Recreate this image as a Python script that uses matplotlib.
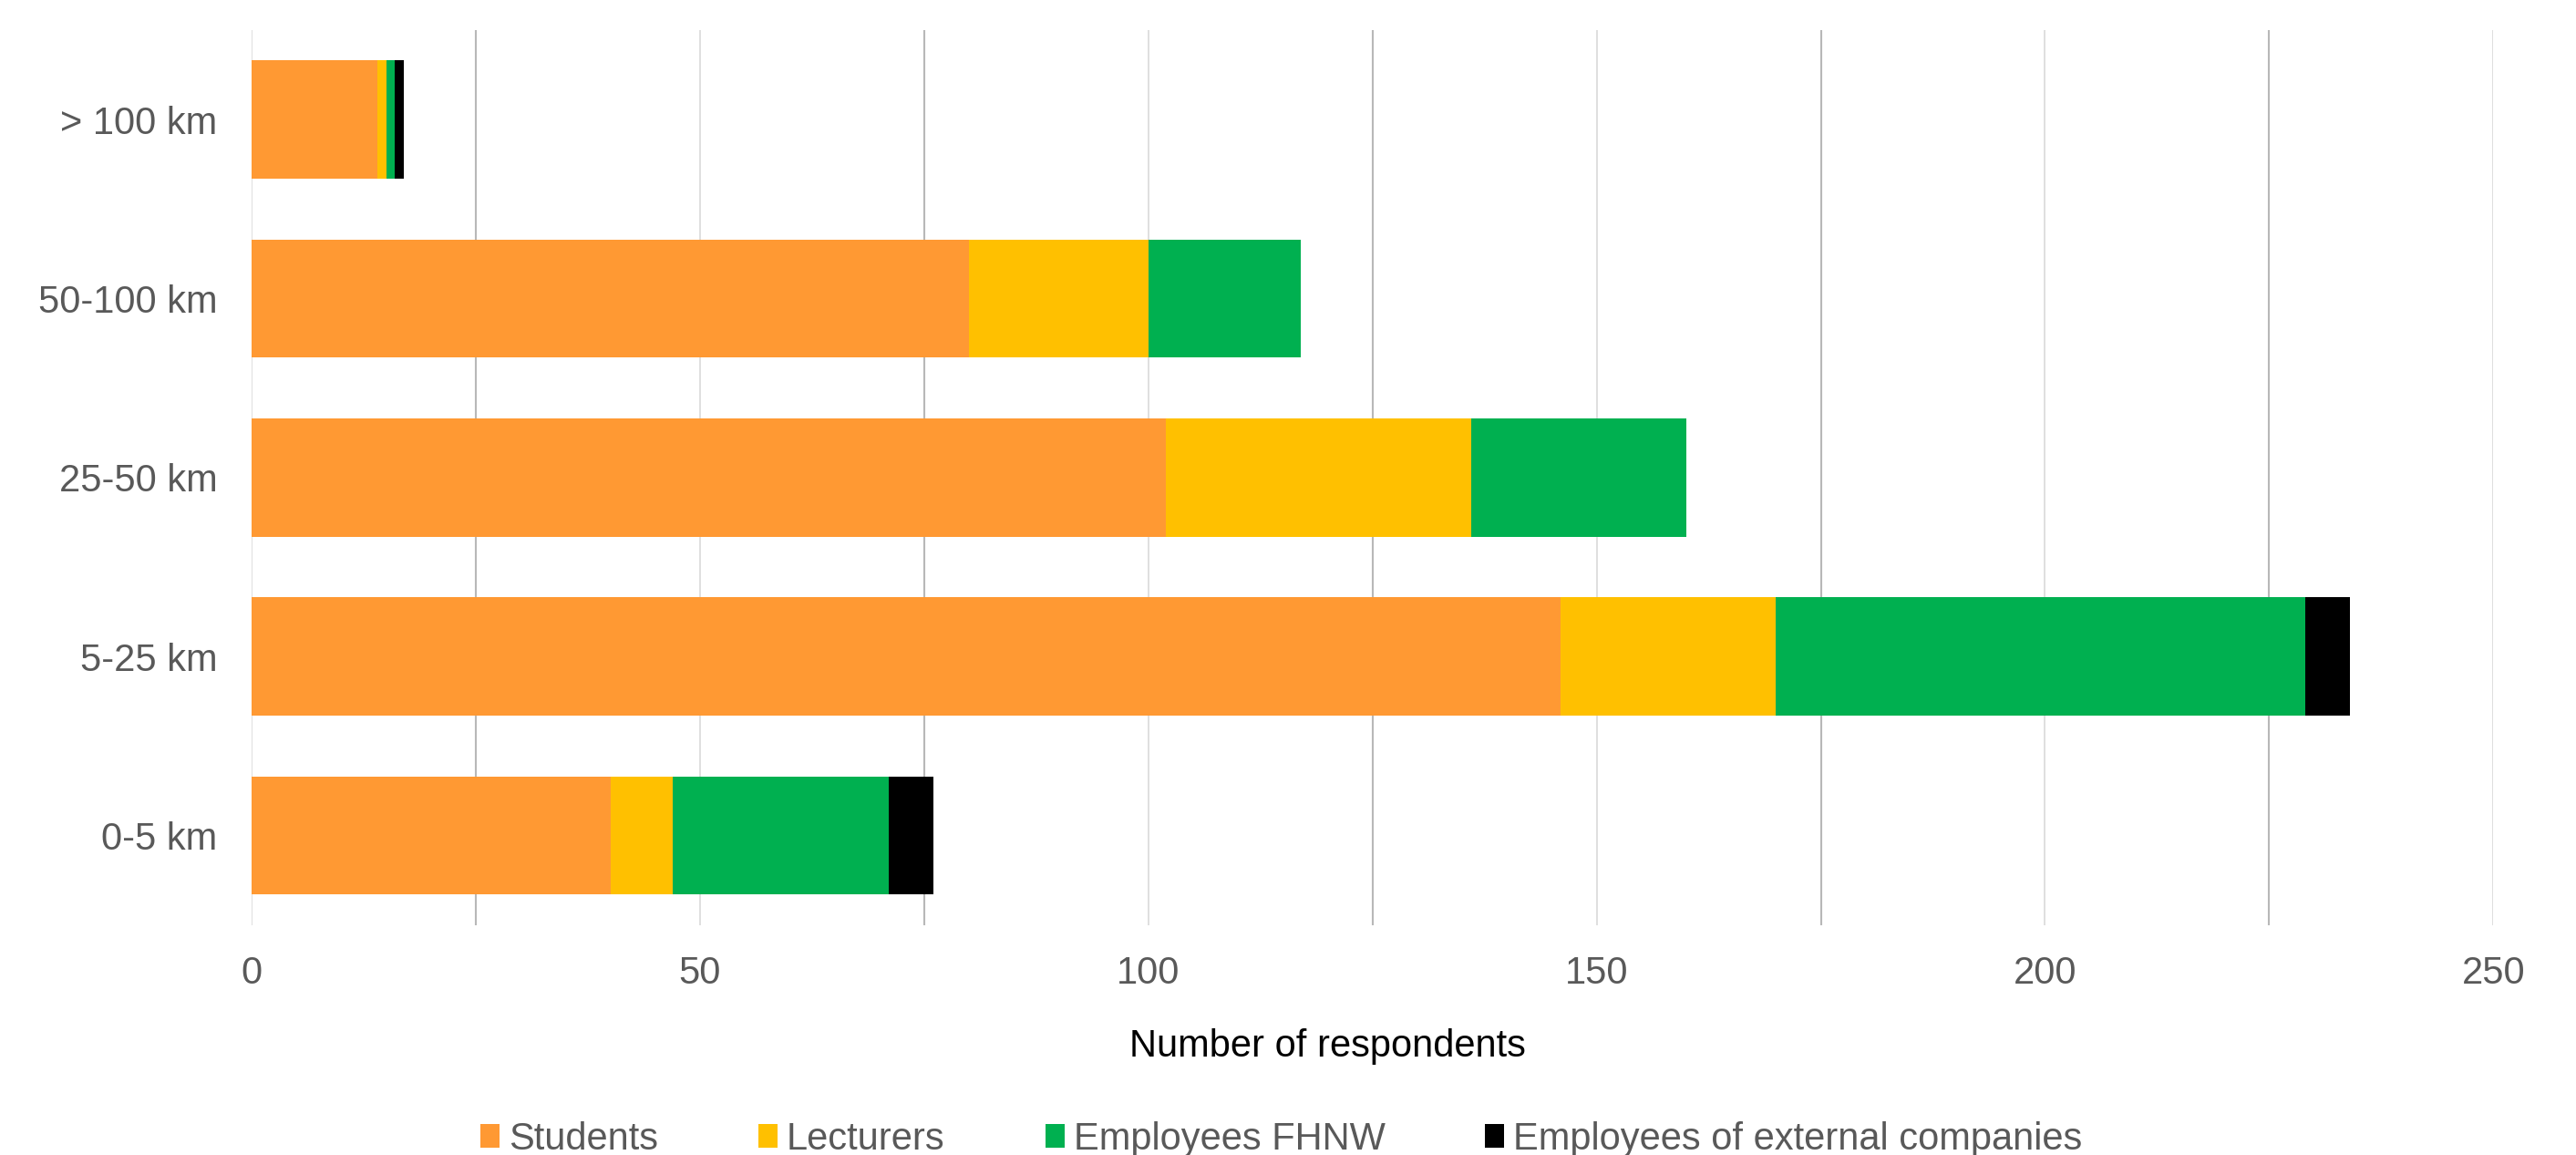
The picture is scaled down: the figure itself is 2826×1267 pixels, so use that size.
import numpy as np
import matplotlib
matplotlib.use('Agg')
import matplotlib.pyplot as plt
from matplotlib.patches import Patch

plt.rcParams['font.family'] = ['Liberation Sans', 'DejaVu Sans']

# 데이터
categories = ['0-5 km', '5-25 km', '25-50 km', '50-100 km', '> 100 km']
students = [40, 146, 102, 80, 14]
lecturers = [7, 24, 34, 20, 1]
employees_fhnw = [24, 59, 24, 17, 1]
employees_external = [5, 5, 0, 0, 1]

series = [
    ('Students', students, '#FF9933'),
    ('Lecturers', lecturers, '#FFC000'),
    ('Employees FHNW', employees_fhnw, '#00B050'),
    ('Employees of external companies', employees_external, '#000000'),
]

fig = plt.figure(figsize=(28.26, 12.67), dpi=100)
ax = fig.add_axes([0.0977, 0.199, 0.8702, 0.775])

y = np.arange(len(categories))
left = np.zeros(len(categories))
for name, vals, color in series:
    vals = np.array(vals, dtype=float)
    ax.barh(y, vals, left=left, height=0.66, color=color, label=name, zorder=3)
    left += vals

ax.set_xlim(0, 250)
ax.set_ylim(-0.5, 4.5)
ax.set_yticks(y)
ax.set_yticklabels(categories)
ax.set_xticks(np.arange(0, 251, 50))
ax.set_xticks(np.arange(25, 250, 50), minor=True)

# 격자선
ax.grid(True, axis='x', which='major', color='#d9d9d9', linewidth=1.2, zorder=0)
ax.grid(True, axis='x', which='minor', color='#b8b8b8', linewidth=1.5, zorder=0)
ax.grid(False, axis='y')

for s in ax.spines.values():
    s.set_visible(False)

ax.tick_params(axis='both', which='both', length=0, labelsize=30, colors='#595959')
ax.tick_params(axis='y', pad=27)
ax.tick_params(axis='x', pad=24)

ax.set_xlabel('Number of respondents', fontsize=30, color='black')
ax.xaxis.set_label_coords(0.480, -0.115)
ax.xaxis.label.set_va('top')

handles = [Patch(facecolor=c, edgecolor='none', label=n) for n, _, c in series]
leg = fig.legend(handles=handles, loc='center', bbox_to_anchor=(0.4975, 0.0135),
                 ncol=4, frameon=False, fontsize=30, handlelength=0.5,
                 handleheight=0.58, handletextpad=0.24, columnspacing=2.64,
                 borderaxespad=0, borderpad=0)
for t in leg.get_texts():
    t.set_color('#595959')

fig.savefig('out.png', dpi=100)
